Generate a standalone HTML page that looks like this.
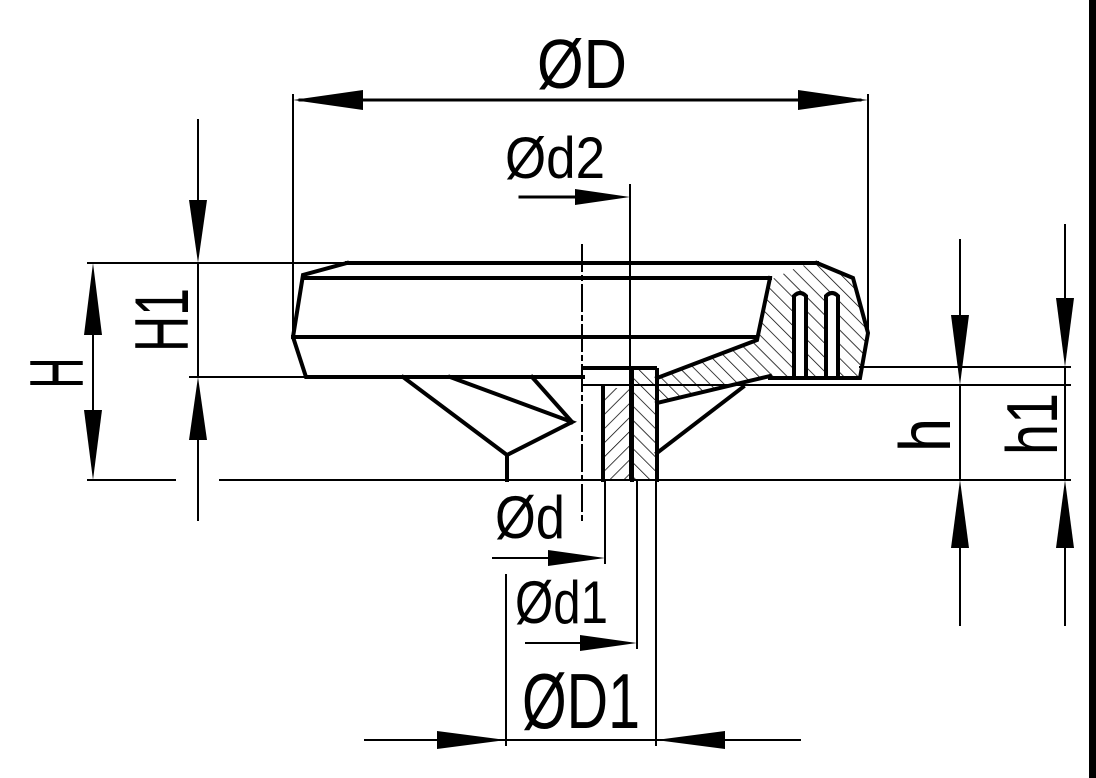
<!DOCTYPE html>
<html><head><style>html,body{margin:0;padding:0;background:#fff;}svg{display:block}</style></head>
<body>
<svg width="1096" height="778" viewBox="0 0 1096 778" xmlns="http://www.w3.org/2000/svg" font-family="Liberation Sans, sans-serif">
<defs>
<pattern id="hb" width="10" height="10" patternUnits="userSpaceOnUse" patternTransform="rotate(-45)">
<line x1="0" y1="0" x2="0" y2="10" stroke="#000" stroke-width="1.5"/></pattern>
<pattern id="hf" width="10" height="10" patternUnits="userSpaceOnUse" patternTransform="rotate(45)">
<line x1="0" y1="0" x2="0" y2="10" stroke="#000" stroke-width="1.5"/></pattern>
</defs>
<rect width="1096" height="778" fill="#fff"/>
<rect x="1089" y="0" width="7" height="778" fill="#000"/>

<polygon points="632,368 652,368 657,378 757,340 770,280 800,266 817,263 853,278 868,333 860,378 770,378 657,403 657,480 632,480" fill="url(#hb)" stroke="none"/>
<rect x="603" y="388" width="29" height="92" fill="url(#hf)"/>

<g stroke="#000" fill="none" stroke-linecap="square">
<g stroke-width="4">
<polyline points="347,263 817,263"/>
<polyline points="347,263 303,275 293,337 306,377 583,377"/>
<line x1="303" y1="278" x2="770" y2="278"/>
<line x1="293" y1="337" x2="757" y2="337"/>
<polyline points="817,263 853,278 868,333 860,378 770,378"/>
<polyline points="770,278 757,340 657,378"/>
<line x1="657" y1="370" x2="657" y2="480"/>
<polyline points="770,376 657,403"/>
<line x1="632" y1="368" x2="632" y2="480"/>
<line x1="603" y1="388" x2="603" y2="480"/>
<line x1="583" y1="368" x2="655" y2="368"/>
<polyline points="403,377 507,455 572,422 450,377"/>
<line x1="532" y1="377" x2="572" y2="422"/>
<line x1="507" y1="455" x2="507" y2="480"/>
<line x1="657" y1="453" x2="743" y2="387"/>
<path d="M794,376 V296 Q800,290 806,296 V376" fill="#fff"/>
<path d="M826,376 V296 Q832,290 838,296 V376" fill="#fff"/>
</g>
<g stroke-width="2">
<line x1="507" y1="480" x2="1070" y2="480"/>
<line x1="220" y1="480" x2="507" y2="480"/>
<line x1="88" y1="480" x2="175" y2="480"/>
<line x1="88" y1="263" x2="347" y2="263"/>
<line x1="190" y1="377" x2="306" y2="377"/>
<line x1="583" y1="385" x2="1070" y2="385"/>
<line x1="860" y1="367" x2="1070" y2="367"/>
<line x1="293" y1="95" x2="293" y2="337"/>
<line x1="868" y1="95" x2="868" y2="333"/>
<line x1="630" y1="185" x2="630" y2="480"/>
<line x1="582" y1="245" x2="582" y2="520" stroke-dasharray="26,5,4,5"/>
<line x1="300" y1="100" x2="860" y2="100" stroke-width="3"/>
<line x1="520" y1="197" x2="610" y2="197" stroke-width="3"/>
<line x1="198" y1="120" x2="198" y2="240"/>
<line x1="198" y1="400" x2="198" y2="520"/>
<line x1="198" y1="263" x2="198" y2="377"/>
<line x1="93" y1="280" x2="93" y2="465"/>
<line x1="960" y1="240" x2="960" y2="365"/>
<line x1="960" y1="500" x2="960" y2="625"/>
<line x1="960" y1="385" x2="960" y2="480"/>
<line x1="1065" y1="225" x2="1065" y2="347"/>
<line x1="1065" y1="500" x2="1065" y2="625"/>
<line x1="1065" y1="367" x2="1065" y2="480"/>
<line x1="493" y1="558" x2="590" y2="558"/>
<line x1="605" y1="480" x2="605" y2="563"/>
<line x1="526" y1="643" x2="620" y2="643"/>
<line x1="637" y1="480" x2="637" y2="648"/>
<line x1="506" y1="575" x2="506" y2="745"/>
<line x1="656" y1="480" x2="656" y2="745"/>
<line x1="365" y1="740" x2="800" y2="740"/>
</g>
</g>

<g fill="#000">
<polygon points="293,100 363,90 363,110"/>
<polygon points="868,100 798,90 798,110"/>
<polygon points="630,197 575,189 575,205"/>
<polygon points="198,263 189,200 207,200"/>
<polygon points="198,377 189,440 207,440"/>
<polygon points="93,263 84,335 102,335"/>
<polygon points="93,480 84,410 102,410"/>
<polygon points="960,385 951,315 969,315"/>
<polygon points="960,480 951,548 969,548"/>
<polygon points="1065,367 1056,298 1074,298"/>
<polygon points="1065,480 1056,548 1074,548"/>
<polygon points="605,558 548,550 548,566"/>
<polygon points="637,643 580,635 580,651"/>
<polygon points="506,740 437,731 437,749"/>
<polygon points="656,740 725,731 725,749"/>
</g>

<g fill="#000">
<text x="537" y="88" font-size="70" textLength="90" lengthAdjust="spacingAndGlyphs">ØD</text>
<text x="505" y="178" font-size="58" textLength="100" lengthAdjust="spacingAndGlyphs">Ød2</text>
<text x="495" y="538" font-size="60" textLength="70" lengthAdjust="spacingAndGlyphs">Ød</text>
<text x="515" y="623" font-size="60" textLength="93" lengthAdjust="spacingAndGlyphs">Ød1</text>
<text x="522" y="728" font-size="78" textLength="118" lengthAdjust="spacingAndGlyphs">ØD1</text>
<text transform="translate(83,373) rotate(-90)" text-anchor="middle" font-size="76" textLength="31" lengthAdjust="spacingAndGlyphs">H</text>
<text transform="translate(188,320) rotate(-90)" text-anchor="middle" font-size="76" textLength="64" lengthAdjust="spacingAndGlyphs">H1</text>
<text transform="translate(950,435) rotate(-90)" text-anchor="middle" font-size="72" textLength="34" lengthAdjust="spacingAndGlyphs">h</text>
<text transform="translate(1057,424) rotate(-90)" text-anchor="middle" font-size="72" textLength="62" lengthAdjust="spacingAndGlyphs">h1</text>
</g>
</svg>
</body></html>
